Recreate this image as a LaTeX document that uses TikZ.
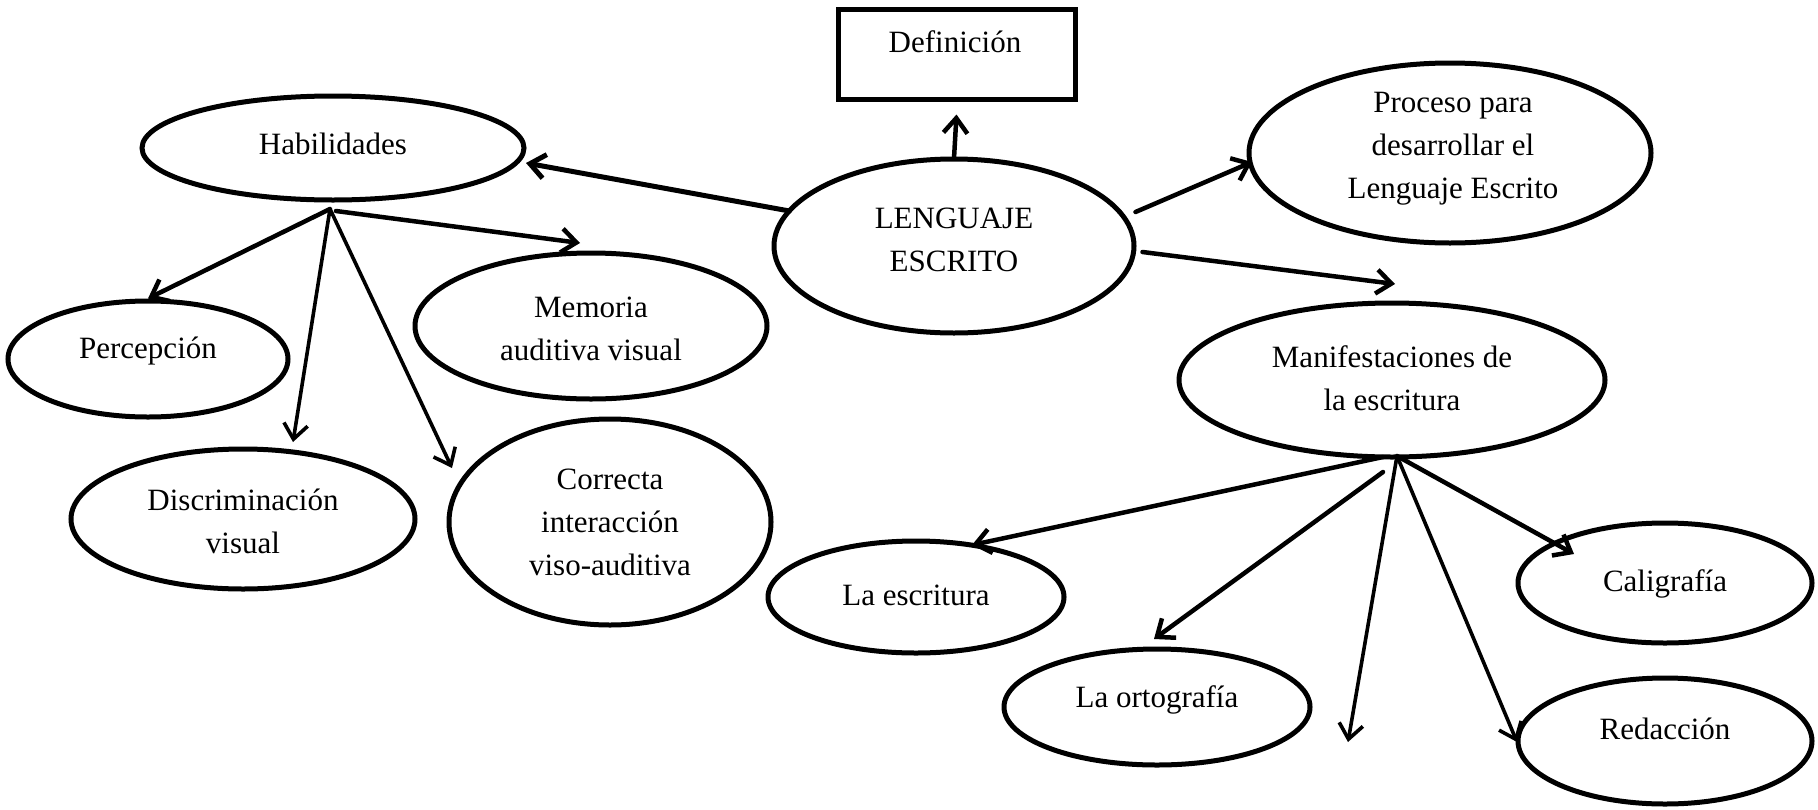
\documentclass[tikz,border=0pt]{standalone}
\usepackage{fontspec}
\setmainfont{Liberation Serif}
\newfontfamily\tnr{Liberation Serif}
\usetikzlibrary{shapes.geometric,arrows.meta}
\begin{document}
\begin{tikzpicture}[x=1pt,y=-1pt,
  ell/.style={draw, ellipse, line width=5pt, inner sep=0pt},
  box/.style={draw, rectangle, line width=5pt, inner sep=0pt},
  txt/.style={align=center, font=\tnr\fontsize{31}{43}\selectfont, inner sep=0pt},
  arr/.style={line width=4.5pt, -{Straight Barb[length=15pt,width=24pt]}, line cap=round, line join=round},
  arrthin/.style={arr, line width=3.6pt}]
\useasboundingbox (0,0) rectangle (1818,809);

% nodes
\node[box, minimum width=237pt, minimum height=90pt] (def) at (956.5,54) {};
\node[txt] (deft) at (955,42) {Definición};

\node[ell, minimum width=360pt, minimum height=174pt] (len) at (954,246) {};
\node[txt] (lent) at (954,240) {LENGUAJE\\ESCRITO};

\node[ell, minimum width=382pt, minimum height=104pt] (hab) at (333,148) {};
\node[txt] (habt) at (333,144) {Habilidades};

\node[ell, minimum width=402pt, minimum height=180pt] (pro) at (1450,153) {};
\node[txt] (prot) at (1453,149) {Proceso para\\desarrollar el\\Lenguaje Escrito};

\node[ell, minimum width=426pt, minimum height=154pt] (man) at (1392,380) {};
\node[txt] (mant) at (1392,378) {Manifestaciones de\\la escritura};

\node[ell, minimum width=280pt, minimum height=116pt] (per) at (148,359) {};
\node[txt] (pert) at (148,351) {Percepción};

\node[ell, minimum width=344pt, minimum height=140pt] (dis) at (243,519) {};
\node[txt] (dist) at (243,521) {Discriminación\\visual};

\node[ell, minimum width=322pt, minimum height=206pt] (cor) at (610,522) {};
\node[txt] (cort) at (610,522) {Correcta\\interacción\\viso-auditiva};

\node[ell, minimum width=352pt, minimum height=146pt] (mem) at (591,326) {};
\node[txt] (memt) at (591,329) {Memoria\\auditiva visual};

\node[ell, minimum width=296pt, minimum height=112pt] (esc) at (916,597) {};
\node[txt] (esct) at (916,595) {La escritura};

\node[ell, minimum width=306pt, minimum height=116pt] (ort) at (1157,707) {};
\node[txt] (ortt) at (1157,700) {La ortografía};

\node[ell, minimum width=294pt, minimum height=120pt] (cal) at (1665,583) {};
\node[txt] (calt) at (1665,584) {Caligrafía};

\node[ell, minimum width=294pt, minimum height=126pt] (red) at (1665,741) {};
\node[txt] (redt) at (1665,729) {Redacción};

% connector points
\coordinate (habhub) at (330,209);
\coordinate (habhub2) at (336,211);
\coordinate (manhub) at (1397,456);
\coordinate (manhub2) at (1383,457);
\coordinate (manhub3) at (1383,472);
\coordinate (tHab) at (526,163);
\coordinate (tPro) at (1252,162);
\coordinate (tMan) at (1395,284);
\coordinate (tDis) at (293,442);
\coordinate (tCor) at (452,468);
\coordinate (tMem) at (580,243);
\coordinate (tEsc) at (972,545);
\coordinate (tOrt) at (1154,639);
\coordinate (tFree) at (1348,742);
\coordinate (tRed) at (1517,742);
\coordinate (tCal) at (1574,554);

% connectors
\draw[arr] ([yshift=-2pt]len.north) -- ([yshift=-13pt]def.south);
\draw[arr, line width=5pt] ([shift={(18,-35)}]len.west) -- (tHab);
\draw[arr] ([shift={(-1,-34)}]len.east) -- (tPro);
\draw[arr] ([shift={(6,6)}]len.east) -- (tMan);

\draw[arr] (habhub) -- (per.north);
\draw[arrthin] (habhub) -- (tDis);
\draw[arrthin] (habhub) -- (tCor);
\draw[arr] (habhub2) -- (tMem);

\draw[arr] (manhub2) -- (tEsc);
\draw[arr] (manhub3) -- (tOrt);
\draw[arrthin] (manhub) -- (tFree);
\draw[arrthin] (manhub) -- (tRed);
\draw[arr] (manhub) -- (tCal);
\end{tikzpicture}
\end{document}
